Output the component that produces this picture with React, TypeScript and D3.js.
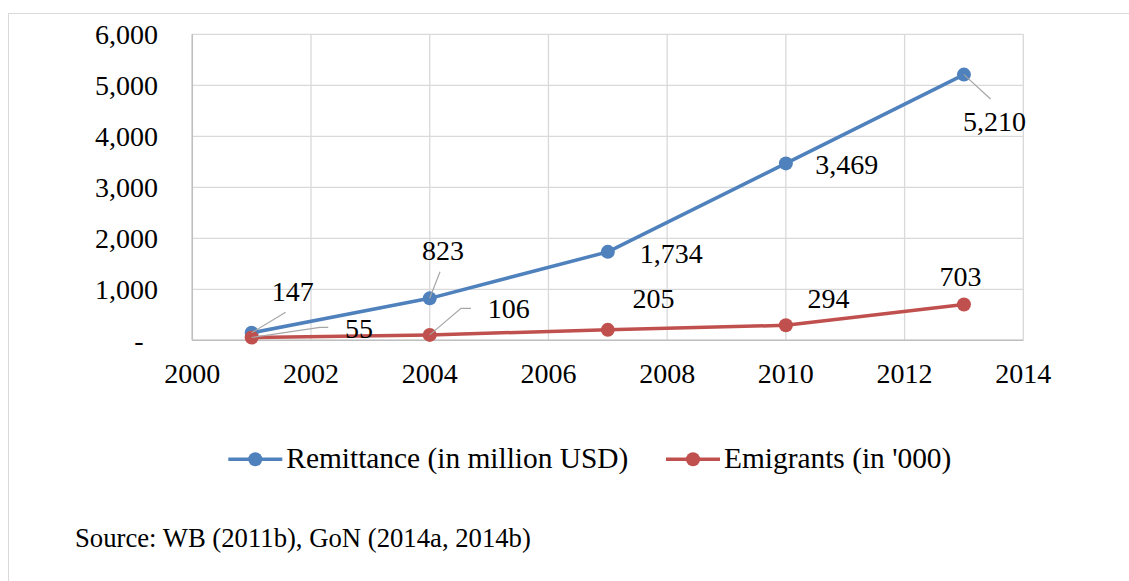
import React from "react";
import * as d3 from "d3";

const years = [2001, 2004, 2007, 2010, 2013];
const remittance = [147, 823, 1734, 3469, 5210];
const emigrants = [55, 106, 205, 294, 703];
const seriesNames = ["Remittance (in million USD)", "Emigrants (in '000)"];
const yTicks = [0, 1000, 2000, 3000, 4000, 5000, 6000];
const xTicks = [2000, 2002, 2004, 2006, 2008, 2010, 2012, 2014];
const sourceText = "Source: WB (2011b), GoN (2014a, 2014b)";

// label placement (offsets from point, px) and leader-line paths
const remLabelOff = [
  { dx: 20, dy: -32, leader: [[34, -20.5]] },
  { dx: -7.7, dy: -38, leader: [[10.3, -26.6]] },
  { dx: 32, dy: 10.8, leader: [] },
  { dx: 29.4, dy: 10.9, leader: [] },
  { dx: -1, dy: 56.5, leader: [[26.6, 24.4]] },
];
const emiLabelOff = [
  { dx: 93.3, dy: 0.8, leader: [[68.3, -10.2], [76.6, -10.2]] },
  { dx: 58, dy: -16.6, leader: [[31.3, -26.6], [41.3, -26.6]] },
  { dx: 24.8, dy: -21.5, leader: [] },
  { dx: 21.7, dy: -17, leader: [] },
  { dx: -24.4, dy: -18.7, leader: [] },
];

const W = 1129;
const H = 581;
const FONT = "'Liberation Serif', 'Times New Roman', serif";
const BLUE = "#4F81BD";
const RED = "#C0504D";

export default function App() {
  const x = d3.scaleLinear().domain([2000, 2014]).range([192.3, 1023.3]);
  const y = d3.scaleLinear().domain([0, 6000]).range([340.3, 34.3]);
  const line = d3
    .line<number>()
    .x((_, i) => x(years[i]))
    .y((d) => y(d));
  const fmt = d3.format(",");

  const series = [
    { values: remittance, color: BLUE, offs: remLabelOff },
    { values: emigrants, color: RED, offs: emiLabelOff },
  ];

  return (
    <svg
      width={W}
      height={H}
      style={{ position: "absolute", left: 0, top: 0, display: "block", background: "#fff" }}
      fontFamily={FONT}
    >
      <rect x={8.5} y={13.5} width={W + 20} height={H + 20} fill="#fff" stroke="#d9d9d9" strokeWidth={1} />
      {/* gridlines */}
      {yTicks.map((t) => (
        <line key={"gy" + t} x1={x(2000)} x2={x(2014)} y1={y(t)} y2={y(t)} stroke="#d9d9d9" strokeWidth={1.3} />
      ))}
      {xTicks.map((t) => (
        <line key={"gx" + t} x1={x(t)} x2={x(t)} y1={y(0)} y2={y(6000)} stroke="#d9d9d9" strokeWidth={1.3} />
      ))}
      {/* axes */}
      <line x1={x(2000)} x2={x(2000)} y1={y(0)} y2={y(6000)} stroke="#bfbfbf" strokeWidth={1.5} />
      <line x1={x(2000)} x2={x(2014)} y1={y(0)} y2={y(0)} stroke="#bfbfbf" strokeWidth={1.5} />
      {yTicks.map((t) => (
        <text
          key={"ty" + t}
          x={t === 0 ? 143.5 : 158}
          y={y(t) + 9.3}
          textAnchor="end"
          fontSize={28}
          fill="#000"
        >
          {t === 0 ? "-" : fmt(t)}
        </text>
      ))}
      {xTicks.map((t) => (
        <text key={"tx" + t} x={x(t)} y={383} textAnchor="middle" fontSize={28} fill="#000">
          {t}
        </text>
      ))}
      {/* lines */}
      {series.map((s, si) => (
        <path key={"l" + si} d={line(s.values) || ""} fill="none" stroke={s.color} strokeWidth={3.5} strokeLinejoin="round" />
      ))}
      {/* markers */}
      {series.map((s, si) =>
        s.values.map((v, i) => (
          <circle key={"m" + si + i} cx={x(years[i])} cy={y(v)} r={7} fill={s.color} />
        ))
      )}
      {/* leader lines */}
      {series.map((s, si) =>
        s.values.map((v, i) => {
          const px = x(years[i]);
          const py = y(v);
          const off = s.offs[i];
          if (!off.leader.length) return null;
          const pts = [[px, py], ...off.leader.map((p) => [px + p[0], py + p[1]])];
          return (
            <polyline
              key={"ld" + si + i}
              points={pts.map((p) => p.join(",")).join(" ")}
              fill="none"
              stroke="#a6a6a6"
              strokeWidth={1.2}
            />
          );
        })
      )}
      {/* data labels */}
      {series.map((s, si) =>
        s.values.map((v, i) => (
          <text
            key={"dl" + si + i}
            x={x(years[i]) + s.offs[i].dx}
            y={y(v) + s.offs[i].dy}
            fontSize={28}
            fill="#000"
          >
            {fmt(v)}
          </text>
        ))
      )}
      {/* legend */}
      {[
        { lx: 228.3, color: BLUE, name: seriesNames[0] },
        { lx: 666, color: RED, name: seriesNames[1] },
      ].map((l, i) => (
        <g key={"lg" + i}>
          <line x1={l.lx} x2={l.lx + 54} y1={459.3} y2={459.3} stroke={l.color} strokeWidth={3.5} />
          <circle cx={l.lx + 27} cy={459.3} r={7} fill={l.color} />
          <text x={l.lx + 58} y={467.5} fontSize={29.4} fill="#000">
            {l.name}
          </text>
        </g>
      ))}
      <text x={75} y={546.7} fontSize={26.7} fill="#000">
        {sourceText}
      </text>
    </svg>
  );
}
